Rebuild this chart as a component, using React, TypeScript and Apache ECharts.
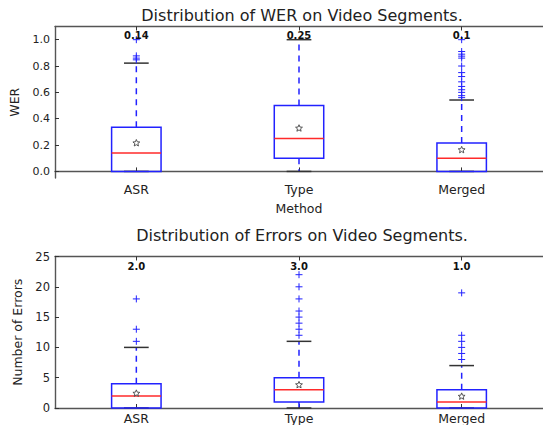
import React, { useEffect, useRef } from 'react';
import * as echarts from 'echarts';

const categories = ['ASR', 'Type', 'Merged'];

// WER distribution (top panel)
const werQ1 = [0.0, 0.1, 0.0];
const werMedian = [0.14, 0.25, 0.1];
const werQ3 = [0.335, 0.5, 0.215];
const werLow = [0.0, 0.0, 0.0];
const werHigh = [0.822, 1.0, 0.542];
const werMean = [0.215, 0.327, 0.163];
const werFliersASR = [0.847, 0.86, 0.877, 1.0];
const werFliersType: number[] = [];
const werFliersMerged = [0.56, 0.575, 0.6, 0.62, 0.645, 0.68, 0.72, 0.75, 0.8, 0.86, 0.875, 0.89, 0.91, 1.0];
const werLabels = ['0.14', '0.25', '0.1'];
const werTicks = [0, 0.2, 0.4, 0.6, 0.8, 1.0];

// Number of errors distribution (bottom panel)
const errQ1 = [0, 1, 0];
const errMedian = [2, 3, 1];
const errQ3 = [4, 5, 3];
const errLow = [0, 0, 0];
const errHigh = [10, 11, 7];
const errMean = [2.4, 3.8, 1.9];
const errFliersASR = [11, 13, 18];
const errFliersType = [12, 13, 14, 15, 16, 18, 20, 22];
const errFliersMerged = [8, 9, 10, 11, 12, 19];
const errLabels = ['2.0', '3.0', '1.0'];
const errTicks = [0, 5, 10, 15, 20, 25];

const FONT = 'DejaVu Sans';
const BLUE = '#2222ff';
const RED = '#ff2a2a';
const DARK = '#333333';
const SPINE = '#555555';

function starPoints(cx: number, cy: number, ro: number, ri: number) {
  const pts: number[][] = [];
  for (let k = 0; k < 10; k++) {
    const r = k % 2 === 0 ? ro : ri;
    const a = -Math.PI / 2 + (k * Math.PI) / 5;
    pts.push([cx + r * Math.cos(a), cy + r * Math.sin(a)]);
  }
  return pts;
}

function makeRender(fliers: number[][], labels: string[], labelValue: number) {
  return (params: any, api: any) => {
    const i = api.value(0);
    const q1 = api.value(1);
    const med = api.value(2);
    const q3 = api.value(3);
    const lo = api.value(4);
    const hi = api.value(5);
    const mean = api.value(6);
    const c = (v: number) => api.coord([i, v]);
    const band = api.size([1, 0])[0];
    const hw = band * 0.152;
    const cw = hw / 2;
    const [x, yq1] = c(q1);
    const yq3 = c(q3)[1];
    const ymed = c(med)[1];
    const ylo = c(lo)[1];
    const yhi = c(hi)[1];
    const ymean = c(mean)[1];
    const children: any[] = [];
    const dash = { stroke: BLUE, lineWidth: 1.5, lineDash: [6, 5] };
    if (hi > q3) {
      children.push({ type: 'line', shape: { x1: x, y1: yq3, x2: x, y2: yhi }, style: dash });
    }
    if (lo < q1) {
      children.push({ type: 'line', shape: { x1: x, y1: yq1, x2: x, y2: ylo }, style: dash });
    }
    children.push({ type: 'line', shape: { x1: x - cw, y1: yhi, x2: x + cw, y2: yhi }, style: { stroke: DARK, lineWidth: 1.5 } });
    children.push({ type: 'line', shape: { x1: x - cw, y1: ylo, x2: x + cw, y2: ylo }, style: { stroke: DARK, lineWidth: 1.5 } });
    children.push({
      type: 'rect',
      shape: { x: x - hw, y: yq3, width: hw * 2, height: yq1 - yq3 },
      style: { fill: 'none', stroke: BLUE, lineWidth: 1.5 },
    });
    children.push({ type: 'line', shape: { x1: x - hw, y1: ymed, x2: x + hw, y2: ymed }, style: { stroke: RED, lineWidth: 1.5 } });
    for (const f of fliers[i]) {
      const yf = c(f)[1];
      children.push({ type: 'line', shape: { x1: x - 3.5, y1: yf, x2: x + 3.5, y2: yf }, style: { stroke: BLUE, lineWidth: 1 } });
      children.push({ type: 'line', shape: { x1: x, y1: yf - 3.5, x2: x, y2: yf + 3.5 }, style: { stroke: BLUE, lineWidth: 1 } });
    }
    children.push({
      type: 'polygon',
      shape: { points: starPoints(x, ymean, 3.6, 1.6) },
      style: { fill: '#ffffff', stroke: '#444444', lineWidth: 0.9 },
    });
    children.push({
      type: 'text',
      x: x,
      y: c(labelValue)[1],
      style: {
        text: labels[i],
        fill: '#111111',
        font: `bold 10px "${FONT}"`,
        align: 'center',
        verticalAlign: 'middle',
      },
    });
    return { type: 'group', children };
  };
}

function rows(q1: number[], med: number[], q3: number[], lo: number[], hi: number[], mean: number[]) {
  return categories.map((_, i) => [i, q1[i], med[i], q3[i], lo[i], hi[i], mean[i]]);
}

export default function App() {
  const ref = useRef<HTMLDivElement>(null);
  useEffect(() => {
    if (!ref.current) return;
    const chart = echarts.init(ref.current, undefined, { renderer: 'svg' });
    const axisLine = { show: true, lineStyle: { color: SPINE, width: 1.4 } };
    const tickStyle = { show: true, inside: true, length: 4, lineStyle: { color: DARK, width: 1 } };
    const labelStyle = { color: '#222222', fontFamily: FONT, fontSize: 12.5 };
    const grids = [
      { left: 55, top: 26.5, width: 494, height: 151.5, show: false },
      { left: 55, top: 256.5, width: 494, height: 151.5, show: false },
    ];
    const xAxisBase = (gi: number, name: string) => ({
      type: 'category',
      data: categories,
      gridIndex: gi,
      boundaryGap: true,
      axisLine,
      axisTick: { ...tickStyle, alignWithLabel: true },
      axisLabel: { ...labelStyle, margin: gi === 0 ? 5 : 4 },
      name,
      nameLocation: 'middle',
      nameGap: 24,
      nameTextStyle: { ...labelStyle },
      splitLine: { show: false },
    });
    const xAxisTop = (gi: number) => ({
      type: 'category',
      data: categories,
      gridIndex: gi,
      position: 'top',
      boundaryGap: true,
      axisLine,
      axisTick: { ...tickStyle, alignWithLabel: true },
      axisLabel: { show: false },
      splitLine: { show: false },
    });
    const titleStyle = { fontFamily: FONT, fontSize: 16, fontWeight: 'normal', color: '#222222' };
    const option: any = {
      animation: false,
      backgroundColor: '#ffffff',
      title: [
        {
          text: 'Distribution of WER on Video Segments.',
          left: 302,
          top: 7,
          padding: 0,
          textAlign: 'center',
          textStyle: titleStyle,
        },
        {
          text: 'Distribution of Errors on Video Segments.',
          left: 302,
          top: 227.5,
          padding: 0,
          textAlign: 'center',
          textStyle: titleStyle,
        },
      ],
      grid: grids,
      xAxis: [xAxisBase(0, 'Method'), xAxisBase(1, ''), xAxisTop(0), xAxisTop(1)],
      yAxis: [
        {
          type: 'value',
          gridIndex: 0,
          min: -0.05,
          max: 1.1,
          axisLine,
          axisTick: { ...tickStyle, customValues: werTicks },
          axisLabel: { ...labelStyle, fontSize: 11, margin: 5, customValues: werTicks, formatter: (v: number) => v.toFixed(1) },
          splitLine: { show: false },
          name: 'WER',
          nameLocation: 'middle',
          nameGap: 34,
          nameTextStyle: { ...labelStyle },
        },
        {
          type: 'value',
          gridIndex: 1,
          min: 0,
          max: 25,
          interval: 5,
          axisLine,
          axisTick: { ...tickStyle, customValues: errTicks },
          axisLabel: { ...labelStyle, fontSize: 11.5, margin: 5, customValues: errTicks },
          splitLine: { show: false },
          name: 'Number of Errors',
          nameLocation: 'middle',
          nameGap: 26,
          nameTextStyle: { ...labelStyle },
        },
      ],
      series: [
        {
          type: 'custom',
          xAxisIndex: 0,
          yAxisIndex: 0,
          renderItem: makeRender([werFliersASR, werFliersType, werFliersMerged], werLabels, 1.035),
          encode: { x: 0, y: [1, 2, 3, 4, 5, 6] },
          data: rows(werQ1, werMedian, werQ3, werLow, werHigh, werMean),
          clip: false,
        },
        {
          type: 'custom',
          xAxisIndex: 1,
          yAxisIndex: 1,
          renderItem: makeRender([errFliersASR, errFliersType, errFliersMerged], errLabels, 23.3),
          encode: { x: 0, y: [1, 2, 3, 4, 5, 6] },
          data: rows(errQ1, errMedian, errQ3, errLow, errHigh, errMean),
          clip: false,
        },
      ],
    };
    chart.setOption(option);
    return () => chart.dispose();
  }, []);
  return <div ref={ref} style={{ width: 543, height: 425, position: 'absolute', left: 0, top: 0 }} />;
}
